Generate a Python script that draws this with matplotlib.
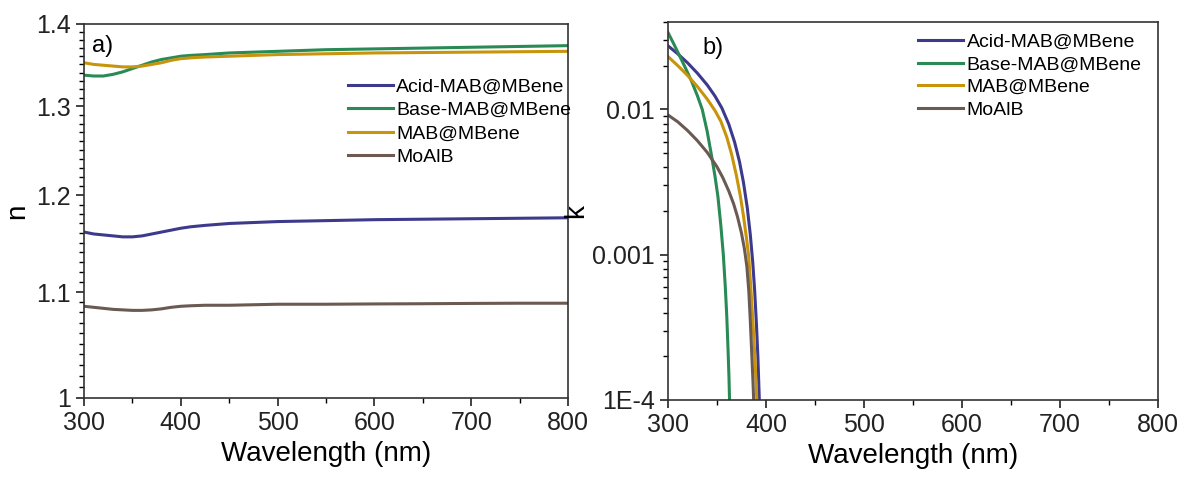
import matplotlib
matplotlib.use("Agg")
import matplotlib.pyplot as plt
from matplotlib.ticker import FixedLocator, FixedFormatter, LogLocator, NullFormatter

plt.rcParams["font.family"] = ["Liberation Sans", "DejaVu Sans"]

LABELS = ["Acid-MAB@MBene", "Base-MAB@MBene", "MAB@MBene", "MoAlB"]
COLORS = ["#3D3A8C", "#2A8A55", "#C8940C", "#6B5A52"]

# (a) refractive index n
WL_N = [300, 310, 320, 330, 340, 350, 360, 370, 380, 390, 400, 410, 425, 450, 475, 500, 550, 600, 650, 700, 750, 800]
N_ACID = [1.161, 1.159, 1.158, 1.157, 1.156, 1.156, 1.157, 1.159, 1.161, 1.163, 1.165, 1.1665, 1.168, 1.170,
          1.171, 1.172, 1.173, 1.174, 1.1745, 1.175, 1.1755, 1.176]
N_BASE = [1.337, 1.336, 1.336, 1.338, 1.341, 1.345, 1.349, 1.353, 1.356, 1.358, 1.360, 1.361, 1.362, 1.364,
          1.365, 1.366, 1.368, 1.369, 1.370, 1.371, 1.372, 1.373]
N_MAB = [1.352, 1.350, 1.349, 1.348, 1.347, 1.347, 1.348, 1.350, 1.352, 1.355, 1.357, 1.358, 1.359, 1.360,
         1.361, 1.362, 1.363, 1.364, 1.3645, 1.365, 1.3655, 1.366]
N_MOALB = [1.086, 1.085, 1.084, 1.083, 1.0825, 1.082, 1.082, 1.0825, 1.0835, 1.085, 1.086, 1.0865, 1.087, 1.087,
           1.0875, 1.088, 1.088, 1.0883, 1.0885, 1.0888, 1.089, 1.089]

# (b) extinction coefficient k
WL_K_ACID = [300, 310, 320, 330, 340, 348, 355, 362, 368, 373, 377, 381, 384, 386.5, 388.5, 390.3, 391.8, 393.0, 394.0]
K_ACID = [0.02742, 0.02415, 0.02094, 0.01778, 0.01476, 0.01236, 0.01023, 0.00794, 0.00596, 0.00437, 0.00316,
          0.00209, 0.00138, 0.000891, 0.000562, 0.000331, 0.000195, 0.000112, 0.0000631]
WL_K_BASE = [300, 306, 312, 318, 324, 330, 335, 340, 344, 348, 351, 354, 356.5, 358.5, 360, 361.3, 362.3, 363.2]
K_BASE = [0.0339, 0.0282, 0.0233, 0.0192, 0.0157, 0.01245, 0.0100, 0.00708, 0.00501, 0.00347, 0.00251, 0.00158,
          0.00100, 0.000603, 0.000380, 0.000224, 0.000141, 0.0000794]
WL_K_MAB = [300, 310, 320, 330, 340, 348, 354, 360, 365, 370, 374, 377, 380, 382.4, 384.5, 386.5, 388.5, 390, 391.5]
K_MAB = [0.02312, 0.02004, 0.01714, 0.01439, 0.01180, 0.00982, 0.00828, 0.00646, 0.00490, 0.00347, 0.00251,
         0.00186, 0.00132, 0.000977, 0.000603, 0.000363, 0.000209, 0.000129, 0.0000708]
WL_K_MOALB = [300, 310, 320, 330, 340, 350, 356, 362, 367, 371, 375, 378, 380.5, 382.5, 384, 385.5, 386.8, 388]
K_MOALB = [0.00916, 0.00822, 0.00716, 0.00610, 0.00507, 0.00403, 0.00339, 0.00275, 0.00224, 0.00182, 0.00141,
           0.00110, 0.000832, 0.000562, 0.000355, 0.000209, 0.000132, 0.0000794]

N_TICKS = [1.0, 1.1, 1.2, 1.3, 1.4]
N_TICKLABELS = ["1", "1.1", "1.2", "1.3", "1.4"]
K_TICKS = [1e-4, 1e-3, 1e-2]
K_TICKLABELS = ["1E-4", "0.001", "0.01"]
X_TICKS = [300, 400, 500, 600, 700, 800]

fig = plt.figure(figsize=(11.82, 4.78), dpi=100)
ax1 = fig.add_axes([0.0711, 0.1674, 0.4095, 0.7824])
ax2 = fig.add_axes([0.5651, 0.1632, 0.4146, 0.7908])

for ys, c, lab in zip([N_ACID, N_BASE, N_MAB, N_MOALB], COLORS, LABELS):
    ax1.plot(WL_N, ys, color=c, lw=2.2, label=lab)

k_series = [(WL_K_ACID, K_ACID), (WL_K_BASE, K_BASE), (WL_K_MAB, K_MAB), (WL_K_MOALB, K_MOALB)]
for (xs, ys), c, lab in zip(k_series, COLORS, LABELS):
    ax2.plot(xs, ys, color=c, lw=2.2, label=lab)

for ax in (ax1, ax2):
    ax.set_yscale("log")
    ax.set_xlim(300, 800)
    ax.set_xticks(X_TICKS)
    ax.set_xticks(range(350, 800, 100), minor=True)
    ax.tick_params(which="major", direction="out", length=6, width=1.2, labelsize=18, colors="#222222",
                   top=False, right=False)
    ax.tick_params(which="minor", direction="out", length=3.5, width=1.0, top=False, right=False)
    for s in ax.spines.values():
        s.set_linewidth(1.2)
        s.set_color("#333333")
    ax.set_xlabel("Wavelength (nm)", fontsize=20, labelpad=4)

ax1.set_ylim(1.0, 1.4)
ax1.yaxis.set_major_locator(FixedLocator(N_TICKS))
ax1.yaxis.set_major_formatter(FixedFormatter(N_TICKLABELS))
ax1.yaxis.set_minor_locator(FixedLocator([1.0 + 0.01 * i for i in range(41) if i % 10]))
ax1.yaxis.set_minor_formatter(NullFormatter())
ax1.set_ylabel("n", fontsize=20, labelpad=4)
ax1.text(0.017, 0.94, "a)", transform=ax1.transAxes, fontsize=17, va="center", ha="left")
ax1.legend(loc="upper left", bbox_to_anchor=(0.545, 0.856), frameon=False, fontsize=14,
           handlelength=2.3, handletextpad=0.2, labelspacing=0.3, borderpad=0, borderaxespad=0)

ax2.set_ylim(1e-4, 0.04)
ax2.yaxis.set_major_locator(FixedLocator(K_TICKS))
ax2.yaxis.set_major_formatter(FixedFormatter(K_TICKLABELS))
ax2.yaxis.set_minor_locator(LogLocator(base=10, subs=range(2, 10)))
ax2.yaxis.set_minor_formatter(NullFormatter())
ax2.set_ylabel("k", fontsize=20, labelpad=2)
ax2.text(0.07, 0.93, "b)", transform=ax2.transAxes, fontsize=17, va="center", ha="left")
ax2.legend(loc="upper left", bbox_to_anchor=(0.51, 0.971), frameon=False, fontsize=14,
           handlelength=2.3, handletextpad=0.2, labelspacing=0.27, borderpad=0, borderaxespad=0)

fig.savefig("out.png", dpi=100)
